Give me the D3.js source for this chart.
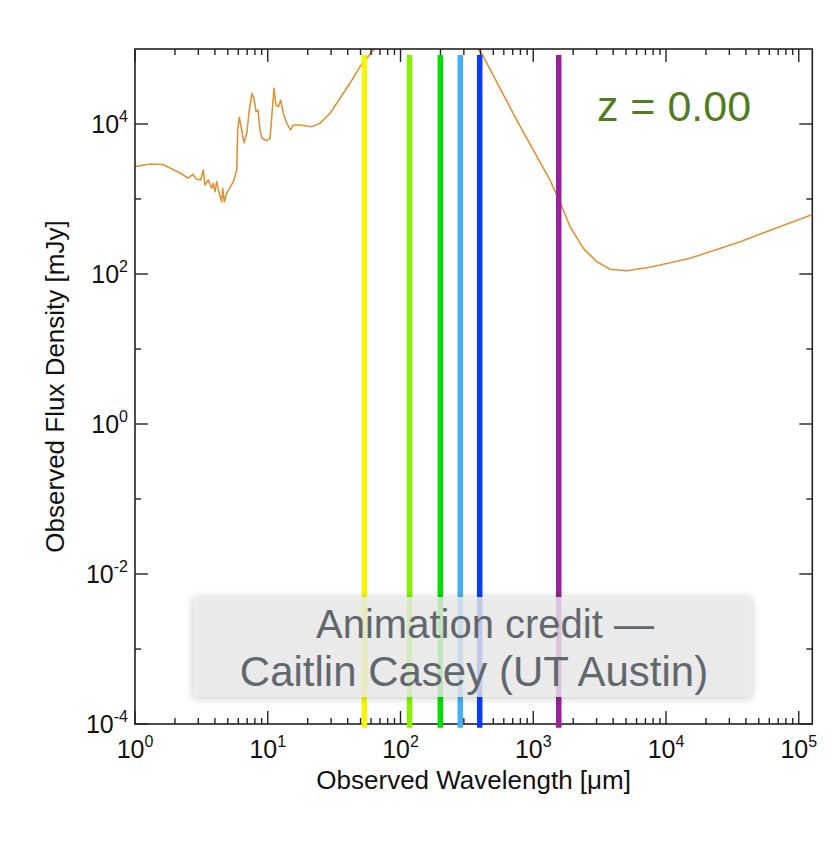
<!DOCTYPE html>
<html><head><meta charset="utf-8">
<script src="https://cdn.jsdelivr.net/npm/d3@7"></script>
<style>body{margin:0;background:#fff;overflow:hidden}</style>
</head><body>
<svg id="c" width="839" height="843"></svg>
<script>
// ---- data ----
const wavelength = [1, 1.297, 1.625, 2.183, 2.507, 2.597, 2.72, 2.916, 3.126, 3.27, 3.368, 3.566, 3.782, 3.89, 4.006, 4.126, 4.316, 4.501, 4.579, 4.707, 4.907, 5.503, 5.837, 5.939, 6.106, 6.366, 6.627, 6.944, 7.262, 7.61, 7.88, 8.158, 8.447, 8.745, 9.054, 9.822, 10.4, 10.77, 11.15, 11.54, 12.01, 12.52, 13.1, 13.89, 14.89, 15.58, 17.5, 21.44, 24.76, 29.44, 35.03, 41.66, 49.56, 55.67, 62, 75, 100, 140, 200, 280, 350, 409, 562.2, 750.8, 1001, 1338, 1685, 1893, 2384, 3008, 3788, 5061, 7584, 15180, 36130, 123800];
const flux = [2700, 2930, 2884, 2222, 1905, 1982, 2135, 1832, 1791, 2436, 1537, 1791, 1390, 1619, 1251, 1702, 1191, 920, 1390, 920, 1191, 1702, 2436, 8318, 12270, 8318, 5640, 7516, 15370, 25640, 22030, 14590, 15370, 8318, 6442, 5984, 6442, 13900, 29920, 17920, 17020, 20890, 13900, 10210, 8318, 9700, 9700, 9204, 10210, 13900, 22030, 34910, 58080, 75160, 95000, 130000, 180000, 210000, 200000, 160000, 120000, 87700, 29920, 11300, 4500, 1791, 713, 427, 220, 146, 115.6, 110.7, 122.8, 161.8, 269.7, 612];
const bandWavelengths = [53.4, 117, 199.5, 282, 395, 1556];
const bandColors = ["#f6f600", "#86f000", "#00e000", "#46aef8", "#0a3cff", "#99209b"];
const bandFluxRange = [Math.pow(10, -4.05), Math.pow(10, 4.92)];
const xDomain = [1, Math.pow(10, 5.102)];
const yDomain = [1e-4, 1e5];
const xTickExponents = ["0", "1", "2", "3", "4", "5"];
const yTickExponents = ["-4", "-2", "0", "2", "4"];
const yMinorExponents = [-3, -1, 1, 3];
const redshiftLabel = "z = 0.00";
const creditLines = ["Animation credit \u2014", "Caitlin Casey (UT Austin)"];

// ---- layout ----
const svg = d3.select("#c");
const L = 135, R = 812.3, T = 49, B = 724;
const x = d3.scaleLog().domain(xDomain).range([L, R]);
const y = d3.scaleLog().domain(yDomain).range([B, T]);
const font = "'Liberation Sans', Arial, Helvetica, sans-serif";

const defs = svg.append("defs");
defs.append("clipPath").attr("id", "plotclip").append("rect")
  .attr("x", L).attr("y", T).attr("width", R - L).attr("height", B - T);
const f = defs.append("filter").attr("id", "shadow").attr("x", "-10%").attr("y", "-30%").attr("width", "120%").attr("height", "160%");
f.append("feDropShadow").attr("dx", 0).attr("dy", 1).attr("stdDeviation", 4).attr("flood-color", "#000").attr("flood-opacity", 0.28);

// curve
const pts = wavelength.map((w, i) => [w, flux[i]]);
svg.append("path").datum(pts)
  .attr("clip-path", "url(#plotclip)")
  .attr("fill", "none").attr("stroke", "#df9339").attr("stroke-width", 1.6)
  .attr("stroke-linejoin", "round")
  .attr("d", d3.line().x(d => x(d[0])).y(d => y(d[1])));

// frame
svg.append("rect").attr("x", L).attr("y", T).attr("width", R - L).attr("height", B - T)
  .attr("fill", "none").attr("stroke", "#222").attr("stroke-width", 1.6);

// x ticks (top & bottom, inward)
const xt = x.ticks().filter(v => v >= xDomain[0] && v <= xDomain[1]);
const isMajor = v => Math.abs(Math.log10(v) - Math.round(Math.log10(v))) < 1e-9;
const tk = svg.append("g").attr("stroke", "#222").attr("stroke-width", 1.4);
xt.forEach(v => {
  const len = isMajor(v) ? 13 : 6;
  tk.append("line").attr("x1", x(v)).attr("x2", x(v)).attr("y1", B).attr("y2", B - len);
  tk.append("line").attr("x1", x(v)).attr("x2", x(v)).attr("y1", T).attr("y2", T + len);
});
// y ticks
yTickExponents.forEach(e => {
  const v = Math.pow(10, +e);
  tk.append("line").attr("x1", L).attr("x2", L + 13).attr("y1", y(v)).attr("y2", y(v));
  tk.append("line").attr("x1", R).attr("x2", R - 13).attr("y1", y(v)).attr("y2", y(v));
});
yMinorExponents.forEach(e => {
  const v = Math.pow(10, e);
  tk.append("line").attr("x1", L).attr("x2", L + 6).attr("y1", y(v)).attr("y2", y(v));
  tk.append("line").attr("x1", R).attr("x2", R - 6).attr("y1", y(v)).attr("y2", y(v));
});

// band lines
svg.append("g").selectAll("line").data(bandWavelengths).join("line")
  .attr("x1", d => x(d)).attr("x2", d => x(d))
  .attr("y1", y(bandFluxRange[0])).attr("y2", y(bandFluxRange[1]))
  .attr("stroke", (d, i) => bandColors[i]).attr("stroke-width", 5.5);

// tick labels
function powLabel(g, e, xx, yy, anchor) {
  const t = g.append("text").attr("x", xx).attr("y", yy).attr("text-anchor", anchor)
    .attr("font-family", font).attr("font-size", 25).attr("fill", "#111");
  t.append("tspan").text("10");
  t.append("tspan").attr("dy", -11).attr("font-size", 16).text(e);
}
const lab = svg.append("g");
xTickExponents.forEach(e => powLabel(lab, e, x(Math.pow(10, +e)), 758, "middle"));
yTickExponents.forEach(e => powLabel(lab, e, 128, y(Math.pow(10, +e)) + 9, "end"));

// axis titles
svg.append("text").attr("x", (L + R) / 2).attr("y", 789).attr("text-anchor", "middle")
  .attr("font-family", font).attr("font-size", 26).attr("fill", "#111")
  .text("Observed Wavelength [\u03bcm]");
svg.append("text").attr("transform", `translate(64,${(T + B) / 2}) rotate(-90)`)
  .attr("text-anchor", "middle")
  .attr("font-family", font).attr("font-size", 26).attr("fill", "#111")
  .text("Observed Flux Density [mJy]");

// redshift label
svg.append("text").attr("x", 674).attr("y", 121).attr("text-anchor", "middle")
  .attr("font-family", font).attr("font-size", 43).attr("fill", "#527c22")
  .text(redshiftLabel);

// credit box
const bx = 193, by = 597, bw = 559, bh = 100;
svg.append("rect").attr("x", bx).attr("y", by).attr("width", bw).attr("height", bh)
  .attr("fill", "#ececec").attr("fill-opacity", 0.78).attr("filter", "url(#shadow)");
svg.append("g").selectAll("text").data(creditLines).join("text")
  .attr("x", (d, i) => i === 0 ? 485 : 474).attr("y", (d, i) => 638 + i * 48)
  .attr("text-anchor", "middle")
  .attr("font-family", font).attr("font-size", (d, i) => i === 0 ? 40 : 42).attr("fill", "#62676e")
  .text(d => d);
</script>
</body></html>
